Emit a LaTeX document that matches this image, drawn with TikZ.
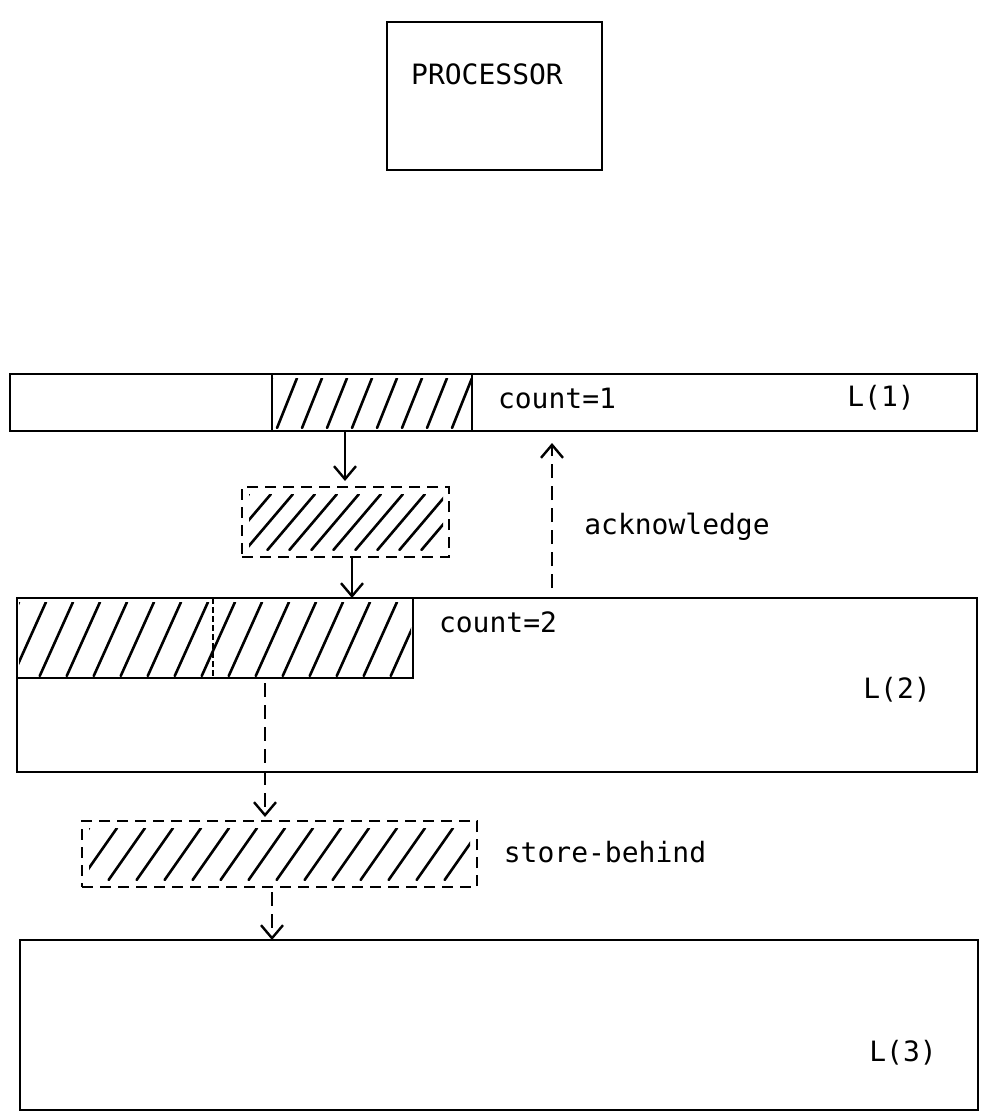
\documentclass[tikz,border=0pt]{standalone}
\usepackage{fontspec}
\setmainfont{DejaVu Sans Mono}
\usetikzlibrary{arrows.meta,calc}
\tikzset{
  box/.style={draw, line width=2.2pt, inner sep=0pt, outer sep=0pt, anchor=north west},
  bufbox/.style={box, line width=2pt, dash pattern=on 11pt off 7pt},
  hatchline/.style={line width=2.6pt, line cap=round},
  lbl/.style={font=\fontsize{28}{30}\selectfont, inner sep=0pt},
  solidarrow/.style={line width=2.2pt, -{Straight Barb[length=13pt,width=22pt,line width=2.4pt]}},
  dasharrow/.style={line width=2.8pt, dash pattern=on 14pt off 8pt, -{Straight Barb[length=13pt,width=22pt,line width=2.4pt]}},
}
% #1 x1, #2 y1 (top), #3 x2, #4 y2 (bottom), #5 spacing, #6 slant (dx per unit height)
\newcommand\hatchfill[6]{%
  \begin{scope}
    \clip (#1,#2) rectangle (#3,#4);
    \pgfmathsetmacro\hstart{#1-(#4-#2)*#6}
    \pgfmathsetmacro\hnext{\hstart+#5}
    \foreach \s in {\hstart,\hnext,...,#3}
      \draw[hatchline] (\s,#4) -- ++({(#4-#2)*#6},{-(#4-#2)});
  \end{scope}}
\begin{document}
\begin{tikzpicture}[x=1pt,y=-1pt]
\useasboundingbox (0,0) rectangle (985,1113);

% processor
\node[box, minimum width=215pt, minimum height=148pt] (proc) at (387,22) {};
\node[lbl] (proctxt) at (487,74) {PROCESSOR};

% level 1
\node[box, minimum width=967pt, minimum height=57pt] (l1) at (10,374) {};
\hatchfill{272}{378}{472}{428}{25}{0.4}
\node[box, minimum width=200pt, minimum height=57pt] (h1) at (272,374) {};
\node[lbl] (c1) at (557,398) {count=1};
\node[lbl] (n1) at (881,398) {L(1)};

% buffer 1
\hatchfill{249}{494}{443}{550}{22}{0.85}
\node[bufbox, minimum width=207pt, minimum height=70pt] (buf1) at (242,487) {};

% level 2
\node[box, minimum width=960pt, minimum height=174pt] (l2) at (17,598) {};
\hatchfill{19}{602}{411}{676}{27}{0.45}
\node[box, minimum width=396pt, minimum height=80pt] (h2) at (17,598) {};
\draw[line width=2pt, dash pattern=on 6pt off 3pt] (213,598) -- (213,678);
\node[lbl] (c2) at (498,622) {count=2};
\node[lbl] (n2) at (897,690) {L(2)};

% buffer 2
\hatchfill{89}{828}{470}{880}{28}{0.7}
\node[bufbox, minimum width=395pt, minimum height=66pt] (buf2) at (82,821) {};

% level 3
\node[box, minimum width=958pt, minimum height=170pt] (l3) at (20,940) {};
\node[lbl] (n3) at (903,1053) {L(3)};

% connectors
\coordinate (xa) at (345,0);
\coordinate (xb) at (352,0);
\coordinate (xc) at (552,0);
\coordinate (xd) at (265,0);
\coordinate (xe) at (272,0);
\draw[solidarrow] (l1.south -| xa) -- ($(buf1.north -| xa)+(0,-6)$);
\draw[solidarrow] (buf1.south -| xb) -- (l2.north -| xb);
\draw[dasharrow] ($(l2.north -| xc)+(0,-10)$) -- ($(l1.south -| xc)+(0,12)$);
\node[lbl] (ack) at (677,527) {acknowledge};
\draw[dasharrow] ($(h2.south -| xd)+(0,5)$) -- ($(buf2.north -| xd)+(0,-4)$);
\node[lbl] (sb) at (605,852) {store-behind};
\draw[dasharrow] ($(buf2.south -| xe)+(0,5)$) -- (l3.north -| xe);
\end{tikzpicture}
\end{document}
